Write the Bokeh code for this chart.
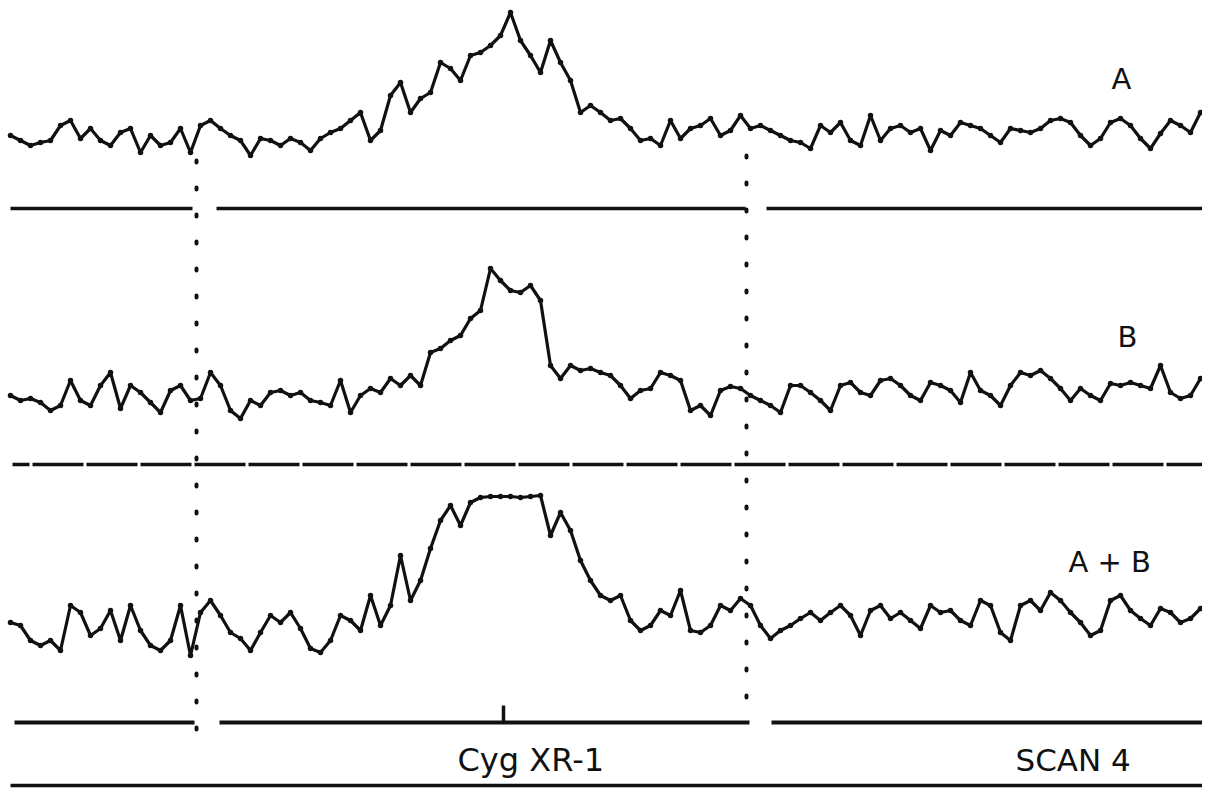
import numpy as np
from bokeh.plotting import figure
from bokeh.models import Range1d
from bokeh.core.properties import value
from bokeh.embed import file_html
from bokeh.resources import INLINE

# scan position (chart units) for each sample
scan_pos = list(range(10, 1201, 10))

# counts above each panel's zero line
counts_a = [73, 68, 63, 66, 68, 83, 88, 70, 80, 68, 63, 76, 80, 56, 73, 63, 66, 80, 56, 83,
            88, 80, 73, 68, 53, 70, 68, 63, 70, 66, 58, 70, 76, 80, 88, 96, 68, 78, 113, 126,
            96, 110, 116, 146, 140, 128, 153, 156, 163, 173, 196, 168, 153, 136, 168, 146, 128, 96, 103, 96,
            88, 90, 80, 68, 70, 63, 88, 70, 80, 83, 90, 73, 78, 93, 80, 83, 78, 73, 68, 66,
            60, 83, 76, 86, 68, 63, 93, 68, 80, 83, 76, 80, 58, 78, 73, 86, 83, 80, 73, 66,
            80, 78, 76, 80, 88, 90, 86, 73, 63, 70, 86, 90, 83, 70, 60, 75, 88, 83, 76, 96]

counts_b = [69, 64, 66, 62, 54, 59, 84, 64, 59, 79, 92, 56, 79, 72, 62, 52, 74, 79, 64, 66,
            92, 79, 54, 46, 64, 59, 72, 74, 69, 72, 64, 62, 59, 84, 52, 69, 76, 72, 86, 79,
            89, 79, 112, 116, 124, 129, 146, 154, 196, 184, 174, 172, 179, 164, 99, 86, 99, 94, 96, 92,
            89, 79, 66, 74, 76, 92, 89, 84, 54, 59, 49, 74, 78, 76, 69, 64, 59, 52, 79, 79,
            72, 64, 54, 79, 82, 72, 69, 84, 86, 79, 69, 64, 82, 79, 74, 62, 92, 74, 69, 59,
            79, 92, 89, 94, 86, 76, 64, 76, 69, 64, 81, 79, 82, 79, 76, 99, 72, 66, 69, 86]

counts_ab = [100, 97, 82, 77, 82, 72, 117, 110, 87, 94, 112, 82, 117, 92, 77, 72, 82, 117, 67, 110,
             122, 107, 90, 84, 72, 90, 107, 100, 110, 94, 74, 70, 82, 107, 102, 92, 127, 97, 117, 167,
             122, 142, 174, 202, 217, 197, 220, 225, 226, 226, 226, 225, 226, 227, 187, 210, 192, 162, 142, 127,
             122, 127, 102, 92, 97, 112, 107, 132, 92, 90, 97, 117, 112, 124, 117, 97, 84, 92, 97, 104,
             110, 102, 110, 117, 107, 87, 112, 117, 104, 110, 102, 94, 117, 110, 112, 102, 97, 122, 117, 90,
             82, 117, 122, 112, 130, 122, 110, 100, 87, 92, 122, 127, 112, 104, 97, 114, 110, 100, 104, 114]

panel_labels = ["A", "B", "A + B"]
source_label = "Cyg XR-1"
scan_label = "SCAN 4"
source_pos = 503          # position of Cyg XR-1 marker
field_edges = [196, 746]  # dotted field-of-view limits

W, H = 1202, 788
p = figure(width=W, height=H, output_backend="svg", toolbar_location=None,
           x_range=Range1d(0, W), y_range=Range1d(-H, 0),
           min_border=0)
p.axis.visible = False
p.grid.visible = False
p.outline_line_color = None
p.background_fill_color = "white"
p.border_fill_color = "white"

ink = "#111111"
zeros = [-208, -464, -722]
x = np.array(scan_pos)

# dotted vertical field limits
p.segment(x0=[field_edges[0]], y0=[-160], x1=[field_edges[0]], y1=[-738],
          line_width=4, line_color=ink, line_dash="2 25", line_cap="round")
p.segment(x0=[field_edges[1]], y0=[-155], x1=[field_edges[1]], y1=[-700],
          line_width=4, line_color=ink, line_dash="2 25", line_cap="round")

for z, c in zip(zeros, [counts_a, counts_b, counts_ab]):
    y = z + np.array(c)
    p.line(x, y, line_width=3.2, line_color=ink, line_join="round")
    p.scatter(x, y, size=5.5, marker="circle", fill_color=ink, line_color=None)

# zero lines
p.segment(x0=[10, 216, 766], y0=[zeros[0]] * 3, x1=[192, 745, 1211], y1=[zeros[0]] * 3,
          line_width=3.4, line_color=ink)
p.segment(x0=[12], y0=[zeros[1]], x1=[1211], y1=[zeros[1]],
          line_width=3.4, line_color=ink, line_dash="51 3", line_dash_offset=34)
p.segment(x0=[14, 219, 771], y0=[zeros[2]] * 3, x1=[194, 749, 1212], y1=[zeros[2]] * 3,
          line_width=3.8, line_color=ink)
# source marker
p.segment(x0=[source_pos], y0=[zeros[2] + 17], x1=[source_pos], y1=[zeros[2]],
          line_width=3.5, line_color=ink)
# bottom rule
p.segment(x0=[10], y0=[-785], x1=[1212], y1=[-785], line_width=3.4, line_color=ink)

font = value("DejaVu Sans")
p.text(x=[1111, 1117, 1068], y=[-78, -336, -561], text=panel_labels,
       text_font=font, text_font_size="29px", text_color=ink,
       text_align="left", text_baseline="alphabetic")
p.text(x=[457], y=[-759], text=[source_label], text_font=font, text_font_size="32px",
       text_color=ink, text_align="left", text_baseline="alphabetic")
p.text(x=[1015], y=[-759], text=[scan_label], text_font=font, text_font_size="31px",
       text_color=ink, text_align="left", text_baseline="alphabetic")

open("out.html", "w").write(file_html(p, INLINE))
